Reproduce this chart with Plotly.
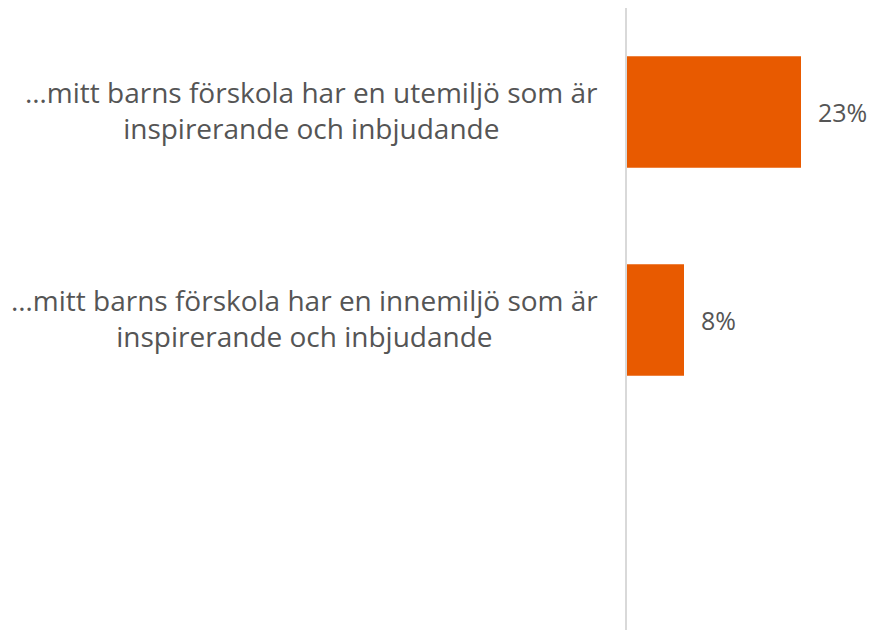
import plotly.graph_objects as go

categories = [
    "…mitt barns förskola har en utemiljö som är<br>inspirerande och inbjudande",
    "…mitt barns förskola har en innemiljö som är<br>inspirerande och inbjudande",
    " ",
]
values = [23.2, 7.6, None]

BAR_COLOR = "#E85A00"
TEXT_COLOR = "#555555"
FONT = "Open Sans"

fig = go.Figure()
fig.add_trace(go.Bar(
    y=categories,
    x=values,
    orientation="h",
    marker=dict(color=BAR_COLOR, line=dict(width=0)),
    hoverinfo="skip",
))

for cat, v in zip(categories, values):
    if v is None:
        continue
    fig.add_annotation(
        x=v, y=cat, xref="x", yref="y", text=f"{round(v)}%", showarrow=False,
        xanchor="left", xshift=15, font=dict(family=FONT, size=25, color=TEXT_COLOR),
    )
    fig.add_annotation(
        x=0, y=cat, xref="paper", yref="y", text=cat, showarrow=False,
        xanchor="right", xshift=-27, yshift=2, align="center",
        font=dict(family=FONT, size=28, color=TEXT_COLOR),
    )

fig.update_layout(
    width=868, height=624,
    margin=dict(l=619, r=0, t=0, b=0),
    paper_bgcolor="white", plot_bgcolor="white",
    showlegend=False,
    bargap=0.465,
    font=dict(family=FONT, color=TEXT_COLOR),
    xaxis=dict(range=[0, 33.2], visible=False, fixedrange=True),
    yaxis=dict(
        type="category", categoryorder="array", categoryarray=categories,
        autorange="reversed", showticklabels=False, ticks="",
        showline=True, linecolor="#D9D9D9", linewidth=2,
        showgrid=False, zeroline=False,
    ),
)

fig.write_html("out.html")
